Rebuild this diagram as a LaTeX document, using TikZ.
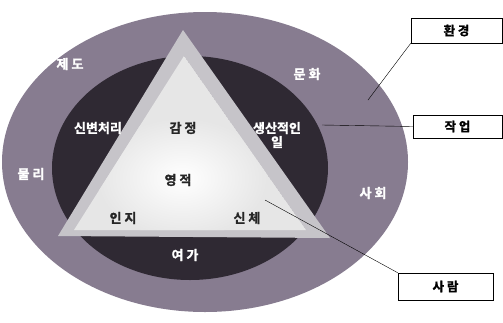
\documentclass[tikz,border=0pt]{standalone}
\usepackage{fontspec}
\newfontfamily\krfont[FakeBold=1.5]{Noto Sans CJK KR Bold}
\definecolor{ringcol}{HTML}{877C90}
\definecolor{darkcol}{HTML}{2F2933}
\definecolor{bandcol}{HTML}{C6C4C9}
\definecolor{whitecol}{HTML}{E6E6E6}
\tikzset{
  light/.style={font=\krfont\fontsize{13}{14}\selectfont, text=white},
  dark/.style={font=\krfont\fontsize{13}{14}\selectfont, text=black!85},
  labelbox/.style={draw, thin, fill=white, font=\krfont\fontsize{12.5}{13}\selectfont, inner sep=0pt},
}
\begin{document}
\begin{tikzpicture}[x=1pt,y=-1pt]
  \useasboundingbox (0,0) rectangle (503,322);
  % rings
  \fill[ringcol] (205,162) ellipse [x radius=203, y radius=150];
  \fill[darkcol] (190,168) ellipse [x radius=138, y radius=112];
  % triangle
  \fill[bandcol] (183,30) -- (58,236) -- (330,238) -- cycle;
  \begin{scope}
    \clip (184,56) -- (74,230) -- (306,230) -- cycle;
    \fill[whitecol] (184,56) -- (74,230) -- (306,230) -- cycle;
    \shade[inner color=white, outer color=whitecol] (182,178) ellipse [x radius=85, y radius=60];
  \end{scope}

  \node[light] (jedo) at (70,64) {제 도};
  \node[light] (munhwa) at (307,74) {문 화};
  \node[light] (mulli) at (31,174) {물 리};
  \node[light] (sahoe) at (373,193) {사 회};
  \node[light] (sinbyeon) at (98,128) {신변처리};
  \node[dark] (gamjeong) at (183,128) {감 정};
  \node[light, align=center] (saengsan) at (277,135) {생산적인\\[0pt]일};
  \node[dark] (yeongjeok) at (178,180) {영 적};
  \node[dark] (inji) at (123,218) {인 지};
  \node[dark] (sinche) at (247,218) {신 체};
  \node[light] (yeoga) at (185,255) {여 가};

  \node[labelbox, minimum width=91pt, minimum height=25pt] (hwangyeong) at (456.5,30.5) {환 경};
  \node[labelbox, minimum width=89pt, minimum height=23pt] (jageop) at (457.5,126.5) {작 업};
  \node[labelbox, minimum width=95pt, minimum height=27pt] (saram) at (445.5,286.5) {사 람};

  \coordinate (envpt) at (368,100);
  \coordinate (workpt) at (322,125);
  \coordinate (personpt) at (265,200);
  \draw[thin] (envpt) -- (hwangyeong.south west);
  \draw[thin] (workpt) -- (jageop.west);
  \draw[thin] (personpt) -- (saram.north west);
\end{tikzpicture}
\end{document}
